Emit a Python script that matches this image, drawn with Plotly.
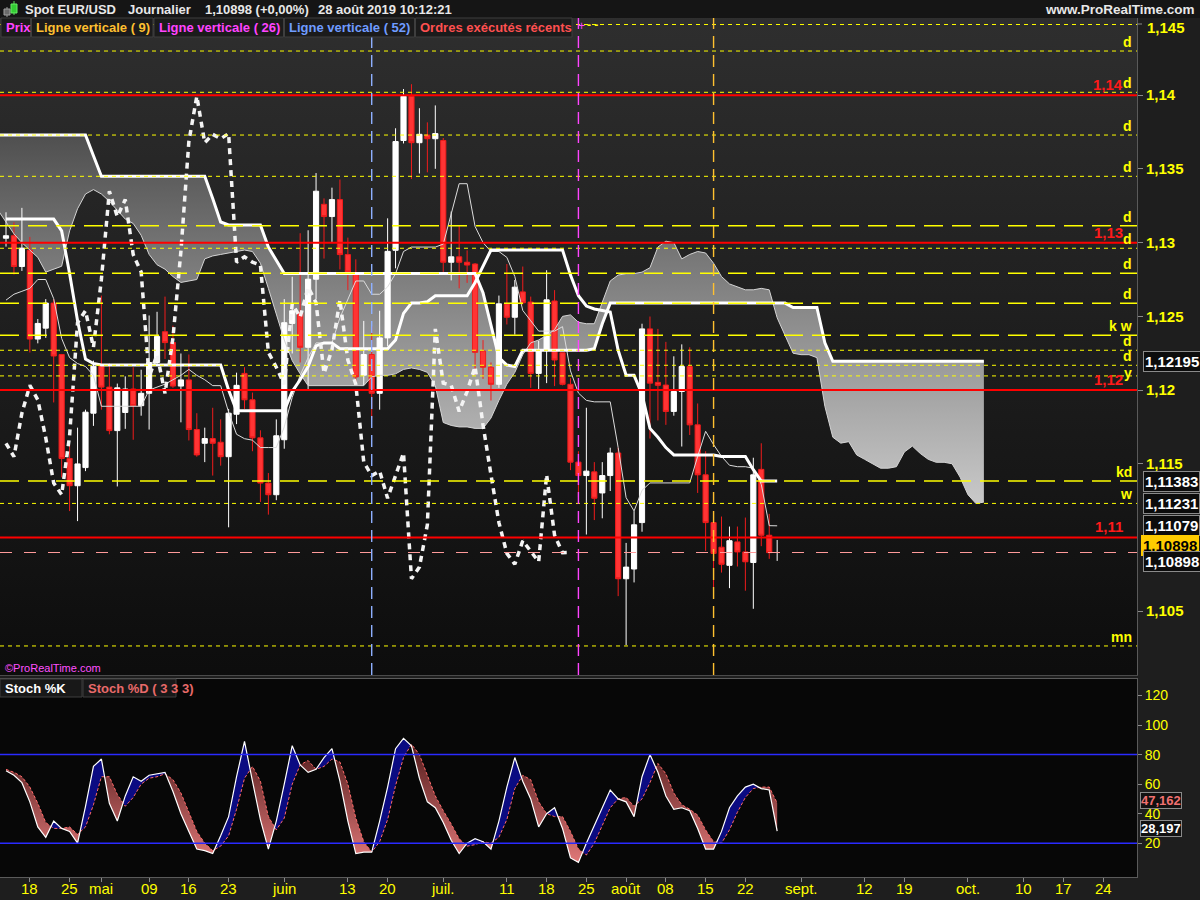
import pandas as pd
import plotly.graph_objects as go

# ---------------------------------------------------------------- calendar
calendar = pd.bdate_range("2019-04-15", "2019-10-31").strftime("%Y-%m-%d").tolist()
pos_of = {d: i for i, d in enumerate(calendar)}

tick_dates = ["2019-04-18", "2019-04-25", "2019-05-01", "2019-05-09", "2019-05-16", "2019-05-23",
              "2019-06-03", "2019-06-13", "2019-06-20", "2019-07-01", "2019-07-11", "2019-07-18",
              "2019-07-25", "2019-08-01", "2019-08-08", "2019-08-15", "2019-08-22", "2019-09-02",
              "2019-09-12", "2019-09-19", "2019-10-01", "2019-10-10", "2019-10-17", "2019-10-24"]
tick_labels = ["18", "25", "mai", "09", "16", "23", "juin", "13", "20", "juil.", "11", "18",
               "25", "août", "08", "15", "22", "sept.", "12", "19", "oct.", "10", "17", "24"]

# ---------------------------------------------------------------- EUR/USD daily candles (15 avr. -> 28 août 2019)
opens = [1.13030, 1.13047, 1.12838, 1.12948, 1.12346, 1.12420, 1.12590, 1.12241, 1.11536, 1.11351,
         1.11474, 1.11843, 1.12162, 1.12020, 1.11725, 1.11848, 1.12007, 1.11894, 1.11978, 1.12187,
         1.12396, 1.12322, 1.12027, 1.12069, 1.11732, 1.11639, 1.11671, 1.11646, 1.11548, 1.11836,
         1.12113, 1.11934, 1.11676, 1.11369, 1.11290, 1.11663, 1.12452, 1.12526, 1.12290, 1.12752,
         1.13260, 1.13177, 1.13292, 1.12919, 1.12789, 1.12101, 1.12241, 1.11978, 1.12354, 1.12948,
         1.13693, 1.13993, 1.13678, 1.13730, 1.13705, 1.13693, 1.12867, 1.12904, 1.12867, 1.12855,
         1.12265, 1.12155, 1.12039, 1.12585, 1.12494, 1.12666, 1.12597, 1.12113, 1.12273, 1.12604,
         1.12253, 1.12039, 1.11511, 1.11420, 1.11445, 1.11302, 1.11420, 1.11573, 1.10720, 1.10786,
         1.11101, 1.12415, 1.12052, 1.12034, 1.11855, 1.11990, 1.12160, 1.11764, 1.11425, 1.11101,
         1.10934, 1.10811, 1.10970, 1.10902, 1.10830, 1.11462, 1.11015, 1.10898]
highs = [1.13206, 1.13138, 1.13236, 1.13039, 1.12482, 1.12617, 1.12617, 1.12245, 1.11627, 1.11745,
         1.11867, 1.12200, 1.12641, 1.12182, 1.12044, 1.12093, 1.12155, 1.12138, 1.12506, 1.12531,
         1.12634, 1.12437, 1.12248, 1.12241, 1.11843, 1.11745, 1.11880, 1.11801, 1.11872, 1.12118,
         1.12155, 1.11983, 1.11727, 1.11437, 1.11801, 1.12617, 1.12769, 1.13064, 1.13084, 1.13472,
         1.13300, 1.13373, 1.13428, 1.13034, 1.12887, 1.12469, 1.12432, 1.12538, 1.13165, 1.13776,
         1.14042, 1.14075, 1.13912, 1.13816, 1.13931, 1.13710, 1.13211, 1.13113, 1.12948, 1.12862,
         1.12339, 1.12187, 1.12641, 1.12855, 1.12747, 1.12838, 1.12634, 1.12334, 1.12813, 1.12678,
         1.12253, 1.12081, 1.11585, 1.11880, 1.11511, 1.11511, 1.11609, 1.11609, 1.10963, 1.11179,
         1.12450, 1.12499, 1.12415, 1.12327, 1.12229, 1.12310, 1.12290, 1.11909, 1.11585, 1.11111,
         1.11142, 1.11074, 1.11074, 1.11135, 1.11541, 1.11639, 1.11160, 1.10983]
lows = [1.12973, 1.12784, 1.12808, 1.12255, 1.12317, 1.12354, 1.11916, 1.11408, 1.11179, 1.11111,
        1.11450, 1.11757, 1.11867, 1.11700, 1.11346, 1.11737, 1.11663, 1.11826, 1.11732, 1.12174,
        1.12211, 1.12015, 1.11781, 1.11658, 1.11548, 1.11511, 1.11420, 1.11487, 1.11069, 1.11769,
        1.11872, 1.11585, 1.11241, 1.11155, 1.11253, 1.11602, 1.12248, 1.12187, 1.12002, 1.12617,
        1.12892, 1.13005, 1.12818, 1.12678, 1.12047, 1.12032, 1.11811, 1.11867, 1.12297, 1.12826,
        1.13673, 1.13432, 1.13469, 1.13477, 1.13501, 1.12801, 1.12744, 1.12690, 1.12727, 1.12101,
        1.12076, 1.11929, 1.12015, 1.12445, 1.12376, 1.12580, 1.12015, 1.12007, 1.12047, 1.12027,
        1.12032, 1.11457, 1.11273, 1.11020, 1.11118, 1.11130, 1.11315, 1.10602, 1.10270, 1.10695,
        1.11039, 1.11671, 1.11794, 1.11764, 1.11826, 1.11617, 1.11695, 1.11302, 1.10909, 1.10663,
        1.10762, 1.10656, 1.10803, 1.10639, 1.10516, 1.10941, 1.10855, 1.10841]
closes = [1.13047, 1.12838, 1.12963, 1.12346, 1.12452, 1.12590, 1.12231, 1.11536, 1.11351, 1.11499,
          1.11850, 1.12162, 1.12020, 1.11725, 1.12015, 1.12007, 1.11894, 1.11978, 1.12187, 1.12364,
          1.12322, 1.12027, 1.12069, 1.11732, 1.11560, 1.11671, 1.11639, 1.11548, 1.11843, 1.12032,
          1.11934, 1.11676, 1.11369, 1.11290, 1.11690, 1.12457, 1.12538, 1.12290, 1.12752, 1.13349,
          1.13177, 1.13292, 1.12919, 1.12801, 1.12089, 1.12241, 1.11978, 1.12354, 1.12941, 1.13686,
          1.13993, 1.13678, 1.13735, 1.13705, 1.13740, 1.12867, 1.12904, 1.12867, 1.12848, 1.12256,
          1.12155, 1.12039, 1.12585, 1.12494, 1.12698, 1.12592, 1.12113, 1.12273, 1.12612, 1.12204,
          1.12039, 1.11511, 1.11420, 1.11450, 1.11266, 1.11420, 1.11573, 1.10720, 1.10799, 1.11086,
          1.12415, 1.12047, 1.12032, 1.11855, 1.11990, 1.12160, 1.11764, 1.11425, 1.11101, 1.10892,
          1.10818, 1.10978, 1.10902, 1.10835, 1.11425, 1.11015, 1.10897, 1.10898]
candle_pos = [pos_of[d] for d in calendar[:len(closes)]]

# ---------------------------------------------------------------- Ichimoku lines
tenkan = [1.1261, 1.1265, 1.1267, 1.1269, 1.1275, 1.1275, 1.1262, 1.1235, 1.1222, 1.1218,
          1.1216, 1.1210, 1.1189, 1.1189, 1.1189, 1.1189, 1.1189, 1.1189, 1.1200, 1.1202,
          1.1204, 1.1207, 1.1210, 1.1214, 1.1210, 1.1207, 1.1203, 1.1203, 1.1185, 1.1170,
          1.1167, 1.1166, 1.1161, 1.1161, 1.1161, 1.1175, 1.1195, 1.1210, 1.1222, 1.1232,
          1.1232, 1.1232, 1.1249, 1.1262, 1.1274, 1.1274, 1.1265, 1.1265, 1.1270, 1.1279,
          1.1294, 1.1297, 1.1297, 1.1297, 1.1297, 1.1299, 1.1320, 1.1340, 1.1340, 1.1311,
          1.1300, 1.1294, 1.1294, 1.1290, 1.1277, 1.1254, 1.1247, 1.1240, 1.1240, 1.1240,
          1.1243, 1.1213, 1.1198, 1.1193, 1.1192, 1.1192, 1.1192, 1.1161, 1.1127, 1.1118,
          1.1132, 1.1137, 1.1137, 1.1137, 1.1137, 1.1137, 1.1137, 1.1155, 1.1172, 1.1163,
          1.1155, 1.1149, 1.1148, 1.1148, 1.1147, 1.1136, 1.1108, 1.11079]
kijun = [1.1316, 1.1316, 1.1316, 1.1316, 1.1316, 1.1316, 1.1316, 1.1308, 1.1279, 1.1247,
         1.1221, 1.1218, 1.1217, 1.1217, 1.1217, 1.1217, 1.1217, 1.1217, 1.1217, 1.1217,
         1.1217, 1.1217, 1.1217, 1.1217, 1.1217, 1.1217, 1.1217, 1.1217, 1.1200, 1.1186,
         1.1186, 1.1186, 1.1186, 1.1186, 1.1186, 1.1186, 1.1199, 1.1207, 1.1216, 1.1230,
         1.1232, 1.1232, 1.1228, 1.1228, 1.1228, 1.1228, 1.1228, 1.1228, 1.1228, 1.1234,
         1.1252, 1.1259, 1.1259, 1.1260, 1.1264, 1.1264, 1.1264, 1.1264, 1.1264, 1.1273,
         1.1284, 1.1295, 1.1295, 1.1295, 1.1295, 1.1295, 1.1295, 1.1295, 1.1295, 1.1295,
         1.1295, 1.1278, 1.1264, 1.1257, 1.1255, 1.1254, 1.1253, 1.1227, 1.1210, 1.1210,
         1.1197, 1.1174, 1.1168, 1.1161, 1.1156, 1.1156, 1.1156, 1.1156, 1.1156, 1.1156,
         1.1155, 1.1155, 1.1155, 1.1155, 1.1146, 1.11383, 1.11383, 1.11383]

# cloud spans one bar before the first candle up to 26 bars past the last one
cloud_pos = list(range(-1, 124))
senkou_a = [1.1322, 1.1314, 1.1306, 1.1300, 1.1295, 1.1290, 1.1280, 1.1282, 1.1284, 1.1308,
            1.1323, 1.1333, 1.1336, 1.1333, 1.1328, 1.1322, 1.1316, 1.1313, 1.1305, 1.1292,
            1.1285, 1.1282, 1.1277, 1.1273, 1.1274, 1.1275, 1.1289, 1.1291, 1.1292, 1.1293,
            1.1294, 1.1295, 1.1294, 1.1286, 1.1269, 1.1251, 1.1234, 1.1220, 1.1211, 1.1203,
            1.1203, 1.1203, 1.1203, 1.1203, 1.1203, 1.1203, 1.1203, 1.1209, 1.1210, 1.1210,
            1.1211, 1.1214, 1.1215, 1.1214, 1.1212, 1.1203, 1.1178, 1.1176, 1.1175, 1.1175,
            1.1174, 1.1174, 1.1181, 1.1193, 1.1204, 1.1212, 1.1224, 1.1232, 1.1234, 1.1237,
            1.1241, 1.1250, 1.1251, 1.1246, 1.1245, 1.1245, 1.1259, 1.1274, 1.1278, 1.1279,
            1.1279, 1.1280, 1.1283, 1.1297, 1.1301, 1.1300, 1.1289, 1.1292, 1.1294, 1.1293,
            1.1286, 1.1277, 1.1272, 1.1270, 1.1268, 1.1268, 1.1269, 1.1268, 1.1249, 1.1237,
            1.1225, 1.1224, 1.1224, 1.1222, 1.1189, 1.1168, 1.1164, 1.1165, 1.1156, 1.1153,
            1.1150, 1.1147, 1.1147, 1.1148, 1.1158, 1.1162, 1.1157, 1.1153, 1.1151, 1.1151,
            1.1150, 1.1141, 1.1129, 1.1123, 1.1124]
senkou_b = [1.1373, 1.1373, 1.1373, 1.1373, 1.1373, 1.1373, 1.1373, 1.1373, 1.1373, 1.1373,
            1.1373, 1.1373, 1.1359, 1.1345, 1.1345, 1.1345, 1.1345, 1.1345, 1.1345, 1.1345,
            1.1345, 1.1345, 1.1345, 1.1345, 1.1345, 1.1345, 1.1345, 1.1330, 1.1314, 1.1312,
            1.1312, 1.1312, 1.1312, 1.1312, 1.1297, 1.1288, 1.1279, 1.1279, 1.1279, 1.1279,
            1.1279, 1.1279, 1.1279, 1.1279, 1.1279, 1.1279, 1.1279, 1.1279, 1.1279, 1.1279,
            1.1279, 1.1279, 1.1279, 1.1279, 1.1279, 1.1279, 1.1279, 1.1279, 1.1279, 1.1279,
            1.1279, 1.1266, 1.1244, 1.1222, 1.1217, 1.1216, 1.1227, 1.1227, 1.1227, 1.1227,
            1.1227, 1.1227, 1.1227, 1.1227, 1.1227, 1.1228, 1.1245, 1.1259, 1.1259, 1.1259,
            1.1259, 1.1259, 1.1259, 1.1259, 1.1259, 1.1259, 1.1259, 1.1259, 1.1259, 1.1259,
            1.1259, 1.1259, 1.1259, 1.1259, 1.1259, 1.1259, 1.1259, 1.1259, 1.1259, 1.1259,
            1.1256, 1.1256, 1.1256, 1.1256, 1.1232, 1.12195, 1.12195, 1.12195, 1.12195, 1.12195,
            1.12195, 1.12195, 1.12195, 1.12195, 1.12195, 1.12195, 1.12195, 1.12195, 1.12195, 1.12195,
            1.12195, 1.12195, 1.12195, 1.12195, 1.12195]
chikou_shift = 26

# ---------------------------------------------------------------- stochastic (3 3 3)
stoch_k = [69, 66, 61, 48, 31, 24, 35, 30, 28, 20,
           45, 72, 77, 47, 35, 52, 65, 62, 66, 67,
           68, 55, 40, 28, 16, 15, 13, 25, 38, 65,
           89, 62, 36, 16, 35, 60, 86, 73, 68, 70,
           78, 84, 62, 35, 13, 14, 14, 35, 58, 84,
           91, 86, 64, 48, 44, 34, 22, 13, 20, 23,
           21, 16, 35, 58, 78, 62, 50, 31, 40, 44,
           30, 10, 7, 20, 32, 44, 56, 50, 48, 38,
           65, 80, 68, 52, 43, 44, 42, 30, 16, 16,
           28, 44, 52, 58, 60, 57, 56, 28.197]
stoch_d = [70, 68, 65, 58, 47, 34, 30, 30, 31, 26,
           31, 46, 65, 65, 53, 45, 51, 60, 64, 65,
           67, 63, 54, 41, 28, 20, 15, 18, 25, 43,
           64, 72, 62, 38, 29, 37, 60, 73, 76, 70,
           72, 77, 75, 60, 37, 21, 14, 21, 36, 59,
           78, 87, 80, 66, 52, 42, 33, 23, 18, 19,
           21, 20, 24, 36, 57, 66, 63, 48, 40, 38,
           38, 28, 16, 12, 20, 32, 44, 50, 51, 45,
           50, 61, 74, 67, 54, 46, 43, 39, 29, 21,
           20, 29, 41, 51, 57, 58, 58, 47.162]
stoch_levels = [80, 20]

# ---------------------------------------------------------------- horizontal levels
red_levels = [1.14, 1.13, 1.12, 1.11]
red_texts = ["1,14", "1,13", "1,12", "1,11"]
yellow_levels = [1.1448, 1.1430, 1.1402, 1.1373, 1.1345, 1.13115, 1.12962, 1.12792, 1.12589,
                 1.12372, 1.1227, 1.12168, 1.12096, 1.11383, 1.11231, 1.10264]
yellow_texts = ["", "d", "d", "d", "d", "d", "d", "d", "d", "k w", "d", "d", "y", "kd", "w", "mn"]
yellow_long = [False, False, False, False, False, True, False, True, True, True, False, False,
               False, True, False, False]
last_price = 1.10898
axis_boxes = [1.12195, 1.11383, 1.11231, 1.11079]
vlines = [("2019-06-18", "#8fb0ff"), ("2019-07-24", "#ff44ff"), ("2019-08-16", "#ffc030")]

# ---------------------------------------------------------------- page geometry
W, H = 1200, 900
PLOT_W = 1137
X_RANGE = [-0.755, 142.26]
P_RANGE = [1.10067, 1.14524]
S_RANGE = [-2.9, 131.2]
FONT = "Liberation Sans, Arial, sans-serif"
NARROW = "Liberation Sans Narrow, Arial Narrow, Liberation Sans, sans-serif"


def px(x):
    return x / PLOT_W


def py(y):
    return 1 - y / H


def comma(v, nd):
    return f"{v:.{nd}f}".replace(".", ",")


fig = go.Figure()

# ---- base price subplot (x, y): backdrop and kumo
fig.add_trace(go.Scatter(
    x=[X_RANGE[0] - 1, X_RANGE[1] + 1, X_RANGE[1] + 1, X_RANGE[0] - 1],
    y=[P_RANGE[0] - 0.001, P_RANGE[0] - 0.001, P_RANGE[1] + 0.001, P_RANGE[1] + 0.001],
    fill="toself", mode="lines", line=dict(width=0),
    fillgradient=dict(type="vertical", colorscale=[[0, "#0c0c0c"], [1, "#2f2f2f"]]),
    hoverinfo="skip", showlegend=False, xaxis="x", yaxis="y"))

fig.add_trace(go.Scatter(
    x=cloud_pos + cloud_pos[::-1], y=senkou_a + senkou_b[::-1],
    fill="toself", mode="lines", line=dict(width=0),
    fillgradient=dict(type="vertical", colorscale=[[0, "#cacaca"], [1, "#4c4c4c"]],
                      start=1.112, stop=1.138),
    hoverinfo="skip", showlegend=False, xaxis="x", yaxis="y"))

# ---- overlay price subplot (x, y3): candles and indicator lines drawn above the kumo
fig.add_trace(go.Candlestick(
    x=candle_pos, open=opens, high=highs, low=lows, close=closes,
    increasing=dict(line=dict(color="#ffffff", width=1), fillcolor="#ffffff"),
    decreasing=dict(line=dict(color="#f01c1c", width=1), fillcolor="#ff3434"),
    whiskerwidth=0, hoverinfo="skip", showlegend=False, xaxis="x", yaxis="y3"))

fig.add_trace(go.Scatter(x=candle_pos, y=tenkan, mode="lines",
                         line=dict(color="#dcdcdc", width=1), hoverinfo="skip",
                         showlegend=False, xaxis="x", yaxis="y3"))
fig.add_trace(go.Scatter(x=cloud_pos, y=senkou_a, mode="lines",
                         line=dict(color="#d4d4d4", width=1), hoverinfo="skip",
                         showlegend=False, xaxis="x", yaxis="y3"))
fig.add_trace(go.Scatter(x=candle_pos, y=kijun, mode="lines",
                         line=dict(color="#ffffff", width=3), hoverinfo="skip",
                         showlegend=False, xaxis="x", yaxis="y3"))
fig.add_trace(go.Scatter(x=cloud_pos, y=senkou_b, mode="lines",
                         line=dict(color="#ffffff", width=3), hoverinfo="skip",
                         showlegend=False, xaxis="x", yaxis="y3"))
fig.add_trace(go.Scatter(x=candle_pos[:len(closes) - chikou_shift], y=closes[chikou_shift:],
                         mode="lines", line=dict(color="#f4f4f4", width=3.5, dash="6px,5px"),
                         hoverinfo="skip", showlegend=False, xaxis="x", yaxis="y3"))

# ---------------------------------------------------------------- stochastic fills


def stoch_bands(xs, k, d):
    up_x, up_y, dn_x, dn_y = [], [], [], []
    for j in range(len(xs) - 1):
        x0, x1 = xs[j], xs[j + 1]
        s0, s1 = k[j] - d[j], k[j + 1] - d[j + 1]
        pieces = []
        if s0 * s1 < 0:
            t = s0 / (s0 - s1)
            xc = x0 + t * (x1 - x0)
            yc = k[j] + t * (k[j + 1] - k[j])
            pieces.append((x0, k[j], d[j], xc, yc, yc, s0))
            pieces.append((xc, yc, yc, x1, k[j + 1], d[j + 1], s1))
        else:
            pieces.append((x0, k[j], d[j], x1, k[j + 1], d[j + 1], s0 if s0 != 0 else s1))
        for (a, ka, da, b, kb, db, s) in pieces:
            bx = [a, b, b, a, a, None]
            by = [ka, kb, db, da, ka, None]
            if s > 0:
                up_x += bx
                up_y += by
            else:
                dn_x += bx
                dn_y += by
    return up_x, up_y, dn_x, dn_y


ux, uy, dx_, dy_ = stoch_bands(candle_pos, stoch_k, stoch_d)
fig.add_trace(go.Scatter(x=ux, y=uy, fill="toself", mode="lines", line=dict(width=0),
                         fillcolor="#0b0b82", hoverinfo="skip", showlegend=False,
                         xaxis="x2", yaxis="y2"))
fig.add_trace(go.Scatter(x=dx_, y=dy_, fill="toself", mode="lines", line=dict(width=0),
                         fillgradient=dict(type="vertical",
                                           colorscale=[[0, "#e47a7a"], [1, "#5e2424"]],
                                           start=5, stop=80),
                         hoverinfo="skip", showlegend=False, xaxis="x2", yaxis="y2"))
fig.add_trace(go.Scatter(x=candle_pos, y=stoch_d, mode="lines",
                         line=dict(color="#ff6a6a", width=1, dash="3px,2px"),
                         hoverinfo="skip", showlegend=False, xaxis="x2", yaxis="y2"))
fig.add_trace(go.Scatter(x=candle_pos, y=stoch_k, mode="lines",
                         line=dict(color="#ffffff", width=1.2),
                         hoverinfo="skip", showlegend=False, xaxis="x2", yaxis="y2"))

# ---------------------------------------------------------------- shapes
shapes = []
# title bar
shapes.append(dict(type="rect", xref="paper", yref="paper", x0=0, x1=px(W), y0=py(18), y1=1,
                   fillcolor="#151515", line=dict(width=0), layer="below"))
# candle icon
shapes.append(dict(type="line", xref="paper", yref="paper", x0=px(7), x1=px(7), y0=py(17), y1=py(7),
                   line=dict(color="#9a9a9a", width=1)))
shapes.append(dict(type="rect", xref="paper", yref="paper", x0=px(4), x1=px(10), y0=py(15), y1=py(9),
                   fillcolor="#6a6a6a", line=dict(color="#a0a0a0", width=1)))
shapes.append(dict(type="line", xref="paper", yref="paper", x0=px(14), x1=px(14), y0=py(15), y1=py(1),
                   line=dict(color="#55dd55", width=1)))
shapes.append(dict(type="rect", xref="paper", yref="paper", x0=px(11), x1=px(17), y0=py(13), y1=py(4),
                   fillcolor="#33cc33", line=dict(color="#66ee66", width=1)))

for lvl, long in zip(yellow_levels, yellow_long):
    shapes.append(dict(type="line", xref="x domain", yref="y", x0=0, x1=1, y0=lvl, y1=lvl,
                       line=dict(color="#ffff00", width=1.6 if long else 1,
                                 dash="19px,9px" if long else "4px,4px")))
shapes.append(dict(type="line", xref="x domain", yref="y", x0=0, x1=1, y0=last_price, y1=last_price,
                   line=dict(color="#ff9a9a", width=1, dash="12px,12px")))
for lvl in red_levels:
    shapes.append(dict(type="line", xref="x domain", yref="y", x0=0, x1=1, y0=lvl, y1=lvl,
                       line=dict(color="#ff0000", width=2)))
for day, col in vlines:
    shapes.append(dict(type="line", xref="x", yref="y domain", x0=pos_of[day], x1=pos_of[day],
                       y0=0, y1=1, line=dict(color=col, width=1.4, dash="12px,7px")))
for lvl in stoch_levels:
    shapes.append(dict(type="line", xref="x2 domain", yref="y2", x0=0, x1=1, y0=lvl, y1=lvl,
                       line=dict(color="#2a2aff", width=1.5)))
# top price tick (label is nudged below the title bar)
shapes.append(dict(type="line", xref="paper", yref="paper", x0=1, x1=px(1142), y0=py(24), y1=py(24),
                   line=dict(color="#8a8a8a", width=1)))

# legend strip boxes
legend_boxes = [(1, 30.5), (31.5, 153), (154, 283.5), (284.5, 414.5), (415.5, 572)]
for a, b in legend_boxes:
    shapes.append(dict(type="rect", xref="paper", yref="paper", x0=px(a), x1=px(b),
                       y0=py(37), y1=py(18), fillcolor="#1b1b1b",
                       line=dict(color="#3e3e3e", width=1)))
for a, b in [(0, 82), (83, 176)]:
    shapes.append(dict(type="rect", xref="paper", yref="paper", x0=px(a), x1=px(b),
                       y0=py(697), y1=py(679), fillcolor="#181818",
                       line=dict(color="#3e3e3e", width=1)))

# ---------------------------------------------------------------- annotations
ann = []


def text(x, y, s, color, size=13, family=FONT, bold=True, xanchor="left", yanchor="middle",
         xref="paper", yref="paper", yshift=0, **kw):
    ann.append(dict(x=x, y=y, xref=xref, yref=yref, text=s, showarrow=False,
                    xanchor=xanchor, yanchor=yanchor, yshift=yshift,
                    font=dict(family=family, size=size, color=color,
                              weight="bold" if bold else "normal"), **kw))


text(px(23), py(9), "Spot EUR/USD", "#e8e8e8")
text(px(126), py(9), "Journalier", "#e8e8e8")
text(px(203), py(9), "1,10898 (+0,00%)", "#e8e8e8")
text(px(316), py(9), "28 août 2019 10:12:21", "#e8e8e8")
text(px(1197), py(9), "www.ProRealTime.com", "#e8e8e8", size=13.5, xanchor="right")

legend_items = [("Prix", "#ff44ff"), ("Ligne verticale ( 9)", "#ffc030"),
                ("Ligne verticale ( 26)", "#ff44ff"), ("Ligne verticale ( 52)", "#6f9cff"),
                ("Ordres exécutés récents", "#ff5050")]
for (a, b), (s, c) in zip(legend_boxes, legend_items):
    text(px(a + 2.5), py(27.5), s, c)
text(px(576), py(26), "+", "#ff44ff", size=12, bold=False)
text(px(585), py(25), "- -", "#ffff00", size=12)

for lvl, s in zip(yellow_levels, yellow_texts):
    if s:
        text(px(1134), lvl, s, "#ffff00", size=14, family=NARROW, xanchor="right",
             yanchor="bottom", yref="y", yshift=-7 if s == "y" else -1)
for lvl, s in zip(red_levels, red_texts):
    text(px(1125), lvl, s, "#ff1a1a", size=15, family=NARROW, xanchor="right",
         yanchor="bottom", yref="y", yshift=0)

# date labels under the stochastic panel
for d, s in zip(tick_dates, tick_labels):
    text(pos_of[d], py(888), s, "#ffff00", size=15, family=NARROW, bold=False,
         xanchor="center", xref="x2")

text(px(1145), py(27), "1,145", "#ffff00", size=15, family=NARROW)
for v in axis_boxes:
    text(px(1143), v, comma(v, 5), "#ffffff", size=15, family=NARROW, yref="y",
         bgcolor="#0c0c0c", bordercolor="#8a8a8a", borderwidth=1, borderpad=1)
text(px(1141), last_price, comma(last_price, 5), "#000000", size=15, family=NARROW, yref="y",
     yshift=7, bgcolor="#ffcc00", bordercolor="#ffcc00", borderwidth=1, borderpad=1)
text(px(1143), last_price, comma(last_price, 5), "#ffffff", size=15, family=NARROW, yref="y",
     yshift=-9, bgcolor="#0c0c0c", bordercolor="#8a8a8a", borderwidth=1, borderpad=1)

text(px(3), py(668), "©ProRealTime.com", "#ff50ff", size=11, bold=False)

text(px(3), py(688), "Stoch %K", "#ffffff", size=13)
text(px(86), py(688), "Stoch %D ( 3 3 3)", "#e86a6a", size=13)
text(px(1140), stoch_d[-1], comma(stoch_d[-1], 3), "#f07070", size=13, family=NARROW, yref="y2",
     yshift=3, bgcolor="#111111", bordercolor="#8a8a8a", borderwidth=1, borderpad=0)
text(px(1140), stoch_k[-1], comma(stoch_k[-1], 3), "#ffffff", size=13, family=NARROW, yref="y2",
     yshift=3, bgcolor="#111111", bordercolor="#8a8a8a", borderwidth=1, borderpad=0)

# ---------------------------------------------------------------- layout
price_ticks = [1.105, 1.115, 1.12, 1.125, 1.13, 1.135, 1.14]
fig.update_layout(
    width=W, height=H, margin=dict(l=0, r=W - PLOT_W, t=0, b=0, autoexpand=False),
    paper_bgcolor="#1e1e1e", plot_bgcolor="#070707",
    showlegend=False, hovermode=False, boxgap=0.35, boxgroupgap=0,
    xaxis=dict(domain=[0, 1], anchor="y", range=X_RANGE, showticklabels=False, automargin=False,
               showgrid=False, zeroline=False, showline=True, linecolor="#4a4a4a",
               rangeslider=dict(visible=False), fixedrange=True),
    yaxis=dict(domain=[py(675), py(18)], anchor="x", range=P_RANGE, side="right", automargin=False,
               tickvals=price_ticks, ticktext=[comma(v, 3).rstrip("0") for v in price_ticks],
               tickfont=dict(family=NARROW, size=15, color="#ffff00", weight="bold"),
               ticks="outside", ticklen=5, tickcolor="#8a8a8a", showgrid=False, zeroline=False,
               showline=True, linecolor="#5a5a5a", fixedrange=True),
    yaxis3=dict(overlaying="y", anchor="x", range=P_RANGE, visible=False, fixedrange=True,
                automargin=False),
    xaxis2=dict(domain=[0, 1], anchor="y2", range=X_RANGE, matches="x", automargin=False,
                tickvals=[pos_of[d] for d in tick_dates], showticklabels=False,
                ticks="outside", ticklen=4, tickcolor="#8a8a8a", showgrid=False,
                zeroline=False, showline=True, linecolor="#5a5a5a", mirror=True,
                rangeslider=dict(visible=False), fixedrange=True),
    yaxis2=dict(domain=[py(877), py(679)], anchor="x2", range=S_RANGE, side="right",
                automargin=False, tickvals=[20, 40, 60, 80, 100, 120],
                tickfont=dict(family=NARROW, size=14, color="#ffff00"),
                ticks="outside", ticklen=4, tickcolor="#8a8a8a", showgrid=False,
                zeroline=False, showline=True, linecolor="#5a5a5a", fixedrange=True),
    shapes=shapes, annotations=ann,
)

fig.write_html("out.html")
